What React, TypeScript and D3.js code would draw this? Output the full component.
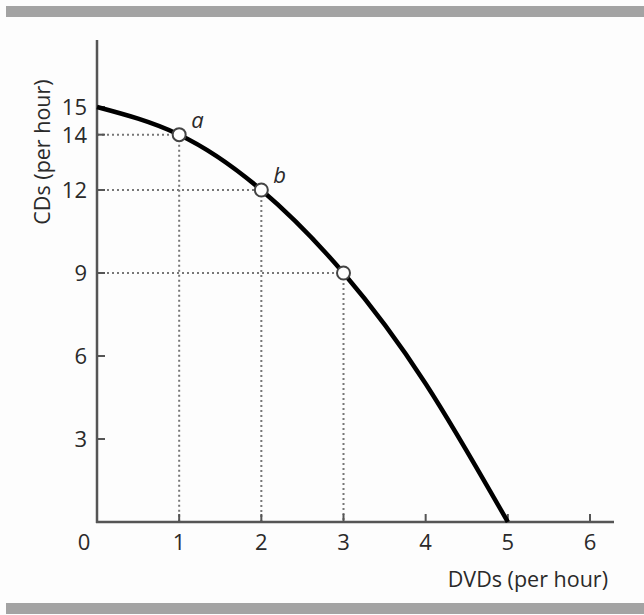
import React from "react";
import * as d3 from "d3";

const dvds = [0, 1, 2, 3, 4, 5];
const cds = [15, 14, 12, 9, 5, 0];
const markedPoints = [
  { x: 1, y: 14, label: "a" },
  { x: 2, y: 12, label: "b" },
  { x: 3, y: 9, label: "" },
];
const xTicks = [0, 1, 2, 3, 4, 5, 6];
const yTicks = [3, 6, 9, 12, 14, 15];

const W = 644;
const H = 615;
const FONT = "'Open Sans', 'DejaVu Sans', sans-serif";

export default function App() {
  const x = d3.scaleLinear().domain([0, 6]).range([97, 590]);
  const y = d3.scaleLinear().domain([0, 15]).range([522, 107]);
  const data = dvds.map((d, i) => [d, cds[i]] as [number, number]);
  const line = d3
    .line<[number, number]>()
    .x((d) => x(d[0]))
    .y((d) => y(d[1]))
    .curve(d3.curveNatural);
  const axisColor = "#555";
  const textColor = "#2a2a2a";
  return (
    <svg
      width={W}
      height={H}
      style={{ position: "absolute", left: 0, top: 0, background: "#fdfdfd" }}
    >
      <rect x={6} y={6} width={W - 6} height={11} fill="#a3a3a3" />
      <rect x={6} y={603} width={W - 6} height={11} fill="#a3a3a3" />

      {/* dotted guides */}
      {markedPoints.map((p, i) => (
        <g key={"g" + i} stroke="#777" strokeWidth={2} strokeDasharray="2,3">
          <line x1={x(0)} x2={x(p.x)} y1={y(p.y)} y2={y(p.y)} />
          <line x1={x(p.x)} x2={x(p.x)} y1={y(p.y)} y2={y(0)} />
        </g>
      ))}

      {/* axes */}
      <line x1={x(0)} x2={x(0)} y1={40} y2={y(0) + 1} stroke={axisColor} strokeWidth={2.5} />
      <line x1={x(0) - 1} x2={614} y1={y(0)} y2={y(0)} stroke={axisColor} strokeWidth={2.5} />

      {yTicks.map((t) => (
        <g key={"yt" + t}>
          <line x1={x(0)} x2={x(0) + 8} y1={y(t)} y2={y(t)} stroke={axisColor} strokeWidth={2} />
          <text
            x={x(0) - 10}
            y={y(t)}
            dy="0.36em"
            textAnchor="end"
            fontFamily={FONT}
            fontSize={22}
            fill={textColor}
          >
            {t}
          </text>
        </g>
      ))}
      {xTicks.map((t) => (
        <g key={"xt" + t}>
          {t > 0 && (
            <line x1={x(t)} x2={x(t)} y1={y(0)} y2={y(0) - 8} stroke={axisColor} strokeWidth={2} />
          )}
          <text
            x={t === 0 ? x(0) - 13 : x(t)}
            y={y(0) + 28}
            textAnchor="middle"
            fontFamily={FONT}
            fontSize={22}
            fill={textColor}
          >
            {t}
          </text>
        </g>
      ))}

      <text
        transform={`translate(50,${152}) rotate(-90)`}
        textAnchor="middle"
        fontFamily={FONT}
        fontSize={21.5}
        fill={textColor}
      >
        CDs (per hour)
      </text>
      <text
        x={608}
        y={587}
        textAnchor="end"
        fontFamily={FONT}
        fontSize={21.5}
        fill={textColor}
      >
        DVDs (per hour)
      </text>

      {/* curve */}
      <path d={line(data) || ""} fill="none" stroke="#000" strokeWidth={4.5} />

      {markedPoints.map((p, i) => (
        <g key={"p" + i}>
          <circle cx={x(p.x)} cy={y(p.y)} r={6.5} fill="#fff" stroke="#444" strokeWidth={2} />
          {p.label && (
            <text
              x={x(p.x) + 12}
              y={y(p.y) - 7}
              fontFamily={FONT}
              fontStyle="italic"
              fontSize={22}
              fill={textColor}
            >
              {p.label}
            </text>
          )}
        </g>
      ))}
    </svg>
  );
}
